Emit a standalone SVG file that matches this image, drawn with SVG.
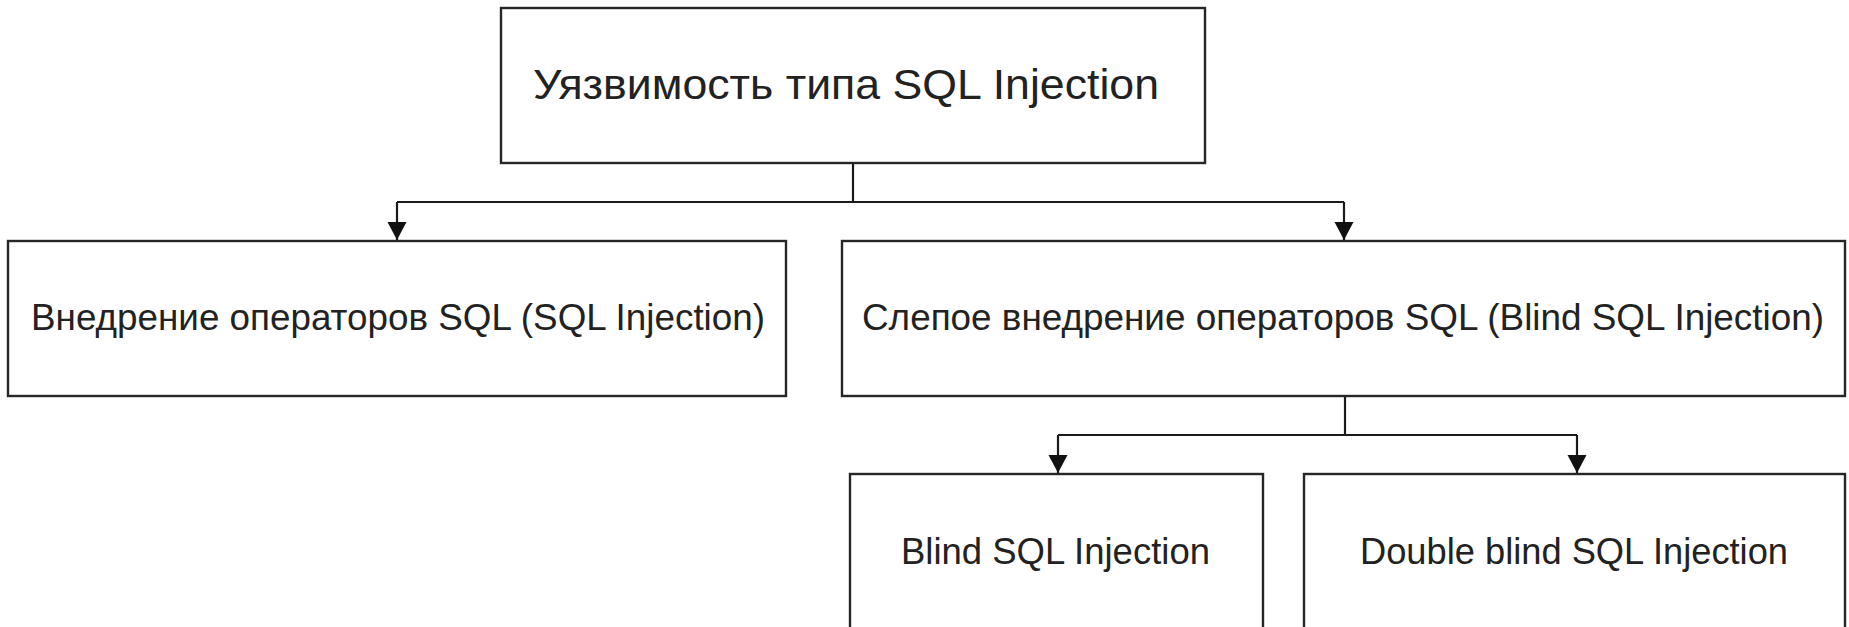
<svg xmlns="http://www.w3.org/2000/svg" width="1849" height="627" viewBox="0 0 1849 627">
<style>
.box{fill:#fff;stroke:#262626;stroke-width:2.4}
.lbl{font-family:"Liberation Sans",Arial,sans-serif;fill:#222;text-anchor:middle}
.conn{fill:none;stroke:#1a1a1a;stroke-width:2.2}
</style>
<defs>
<marker id="arr" markerUnits="userSpaceOnUse" markerWidth="20" markerHeight="20" viewBox="0 0 20 20" refX="19" refY="10" orient="auto">
<path d="M1 0.5 L19 10 L1 19.5 Z" fill="#111"/>
</marker>
</defs>
<rect width="1849" height="627" fill="#fff"/>
<g id="connectors">
<path class="conn" d="M853 163 V202"/>
<path class="conn" d="M397 202 H1344"/>
<path class="conn" d="M397 202 V240" marker-end="url(#arr)"/>
<path class="conn" d="M1344 202 V240" marker-end="url(#arr)"/>
<path class="conn" d="M1345 396 V435"/>
<path class="conn" d="M1058 435 H1577"/>
<path class="conn" d="M1058 435 V473" marker-end="url(#arr)"/>
<path class="conn" d="M1577 435 V473" marker-end="url(#arr)"/>
</g>
<g id="node-root">
<rect class="box" x="501" y="8" width="704" height="155"/>
<text class="lbl" x="846" y="99" font-size="43" textLength="626" lengthAdjust="spacingAndGlyphs">Уязвимость типа SQL Injection</text>
</g>
<g id="node-sqli">
<rect class="box" x="8" y="241" width="778" height="155"/>
<text class="lbl" x="398" y="330" font-size="37.5" textLength="734" lengthAdjust="spacingAndGlyphs">Внедрение операторов SQL (SQL Injection)</text>
</g>
<g id="node-blind">
<rect class="box" x="842" y="241" width="1003" height="155"/>
<text class="lbl" x="1343" y="330" font-size="37.5" textLength="962" lengthAdjust="spacingAndGlyphs">Слепое внедрение операторов SQL (Blind SQL Injection)</text>
</g>
<g id="node-blind-sqli">
<rect class="box" x="850" y="474" width="413" height="180"/>
<text class="lbl" x="1055.5" y="564" font-size="37.5" textLength="309" lengthAdjust="spacingAndGlyphs">Blind SQL Injection</text>
</g>
<g id="node-double-blind">
<rect class="box" x="1304" y="474" width="541" height="180"/>
<text class="lbl" x="1574" y="564" font-size="37.5" textLength="428" lengthAdjust="spacingAndGlyphs">Double blind SQL Injection</text>
</g>
</svg>
